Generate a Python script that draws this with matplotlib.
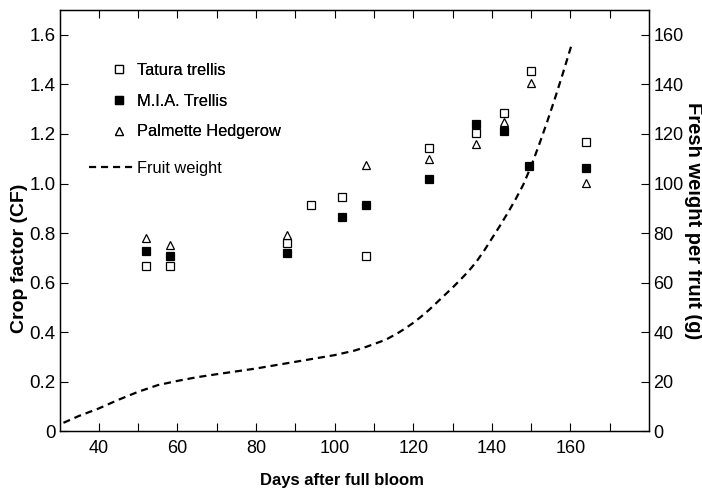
import matplotlib
matplotlib.use("Agg")
import matplotlib.pyplot as plt
from matplotlib.lines import Line2D
from matplotlib.ticker import MultipleLocator, FixedLocator, FuncFormatter

plt.rcParams['font.family'] = ['Liberation Sans', 'DejaVu Sans']

# ---- data ----
days = [52, 58, 88, 94, 102, 108, 124, 136, 143, 150, 164]
tatura = [0.668, 0.669, 0.759, 0.913, 0.944, 0.706, 1.145, 1.204, 1.284, 1.453, 1.168]

mia_days = [52, 58, 88, 102, 108, 124, 136, 143, 149.5, 164]
mia = [0.727, 0.708, 0.719, 0.866, 0.915, 1.018, 1.239, 1.212, 1.070, 1.062]

palm_days = [52, 58, 88, 108, 124, 136, 143, 150, 164]
palmette = [0.781, 0.753, 0.794, 1.075, 1.098, 1.159, 1.248, 1.404, 1.004]

fw_days = [31, 35, 40, 45, 50, 55, 60, 65, 70, 80, 90, 100, 105, 108, 113,
           116, 118, 120, 122, 124, 126, 128, 130, 132, 134, 136, 138, 140,
           142, 144, 146, 148, 150, 152, 154, 156, 158, 160.5]
fw = [3.5, 6.3, 9.3, 12.8, 16.0, 18.7, 20.4, 21.9, 23.1, 25.4, 28.1, 30.8,
      32.6, 34.1, 37.0, 39.6, 41.6, 43.8, 46.3, 49.0, 52.0, 55.0, 58.0,
      61.2, 64.5, 68.3, 72.8, 77.8, 82.8, 88.0, 93.5, 99.5, 107.0, 115.5,
      124.5, 134.0, 144.0, 157.0]

x_ticks_major = [40, 60, 80, 100, 120, 140, 160]
# ---- plot ----
fig = plt.figure(figsize=(7.02, 4.99), dpi=100)
ax = fig.add_axes([0.0848, 0.1353, 0.9245 - 0.0848, 0.98 - 0.1353])
ax2 = ax.twinx()

ms = 5.2
ax.plot(days, tatura, 's', mfc='white', mec='black', mew=0.9, ms=ms, ls='none', label='Tatura trellis')
ax.plot(mia_days, mia, 's', mfc='black', mec='black', mew=0.9, ms=ms, ls='none', label='M.I.A. Trellis')
ax.plot(palm_days, palmette, '^', mfc='white', mec='black', mew=0.9, ms=ms, ls='none', label='Palmette Hedgerow')

ax2.plot(fw_days, fw, color='black', lw=1.6, ls=(0, (3.2, 2.2)), label='Fruit weight')

ax.set_xlim(30, 180)
ax.set_ylim(0, 1.7)
ax2.set_ylim(0, 170)

ax.xaxis.set_major_locator(FixedLocator(x_ticks_major))
ax.xaxis.set_minor_locator(FixedLocator([50, 70, 90, 110, 130, 150, 170]))
ax.yaxis.set_major_locator(MultipleLocator(0.2))
ax2.yaxis.set_major_locator(MultipleLocator(20))
ax.yaxis.set_major_formatter(FuncFormatter(lambda v, p: '0' if abs(v) < 1e-9 else f'{v:.1f}'))

ax.tick_params(axis='x', which='both', direction='in', length=6, width=0.8, top=True,
               labelsize=13, pad=6)
ax.tick_params(axis='y', which='both', direction='in', length=6, width=0.8, labelsize=13.5, pad=3)
ax2.tick_params(axis='y', direction='in', length=6, width=0.8, labelsize=13, pad=3)

for a in (ax, ax2):
    for s in a.spines.values():
        s.set_linewidth(0.9)

ax.set_xlabel('Days after full bloom', fontsize=12, fontweight='bold')
ax.xaxis.set_label_coords(0.479, -0.098)
ax.set_ylabel('Crop factor (CF)', fontsize=14, fontweight='bold')
ax.yaxis.set_label_coords(-0.053, 0.41)
ax2.set_ylabel('Fresh weight per fruit (g)', fontsize=14.5, fontweight='bold',
               rotation=-90, labelpad=14)

h1 = [Line2D([], [], marker='s', mfc='white', mec='black', mew=0.9, ms=ms, ls='none'),
      Line2D([], [], marker='s', mfc='black', mec='black', mew=0.9, ms=ms, ls='none'),
      Line2D([], [], marker='^', mfc='white', mec='black', mew=0.9, ms=ms, ls='none')]
leg1 = ax.legend(h1, ['Tatura trellis', 'M.I.A. Trellis', 'Palmette Hedgerow'],
                 loc='upper left', bbox_to_anchor=(111 / 702, 1 - 63 / 499),
                 bbox_transform=fig.transFigure, frameon=False, fontsize=11.8,
                 handlelength=1.0, handletextpad=0.6, labelspacing=0.96, borderpad=0,
                 borderaxespad=0)
ax.add_artist(leg1)
h2 = [Line2D([], [], color='black', lw=1.6, ls=(0, (3.2, 2.2)))]
leg2 = ax2.legend(h2, ['Fruit weight'], loc='upper left',
                  bbox_to_anchor=(89 / 702, 1 - 161 / 499), bbox_transform=fig.transFigure,
                  frameon=False, fontsize=11.8, handlelength=2.7, handletextpad=0.25,
                  borderpad=0, borderaxespad=0)

fig.savefig('out.png', dpi=100)
